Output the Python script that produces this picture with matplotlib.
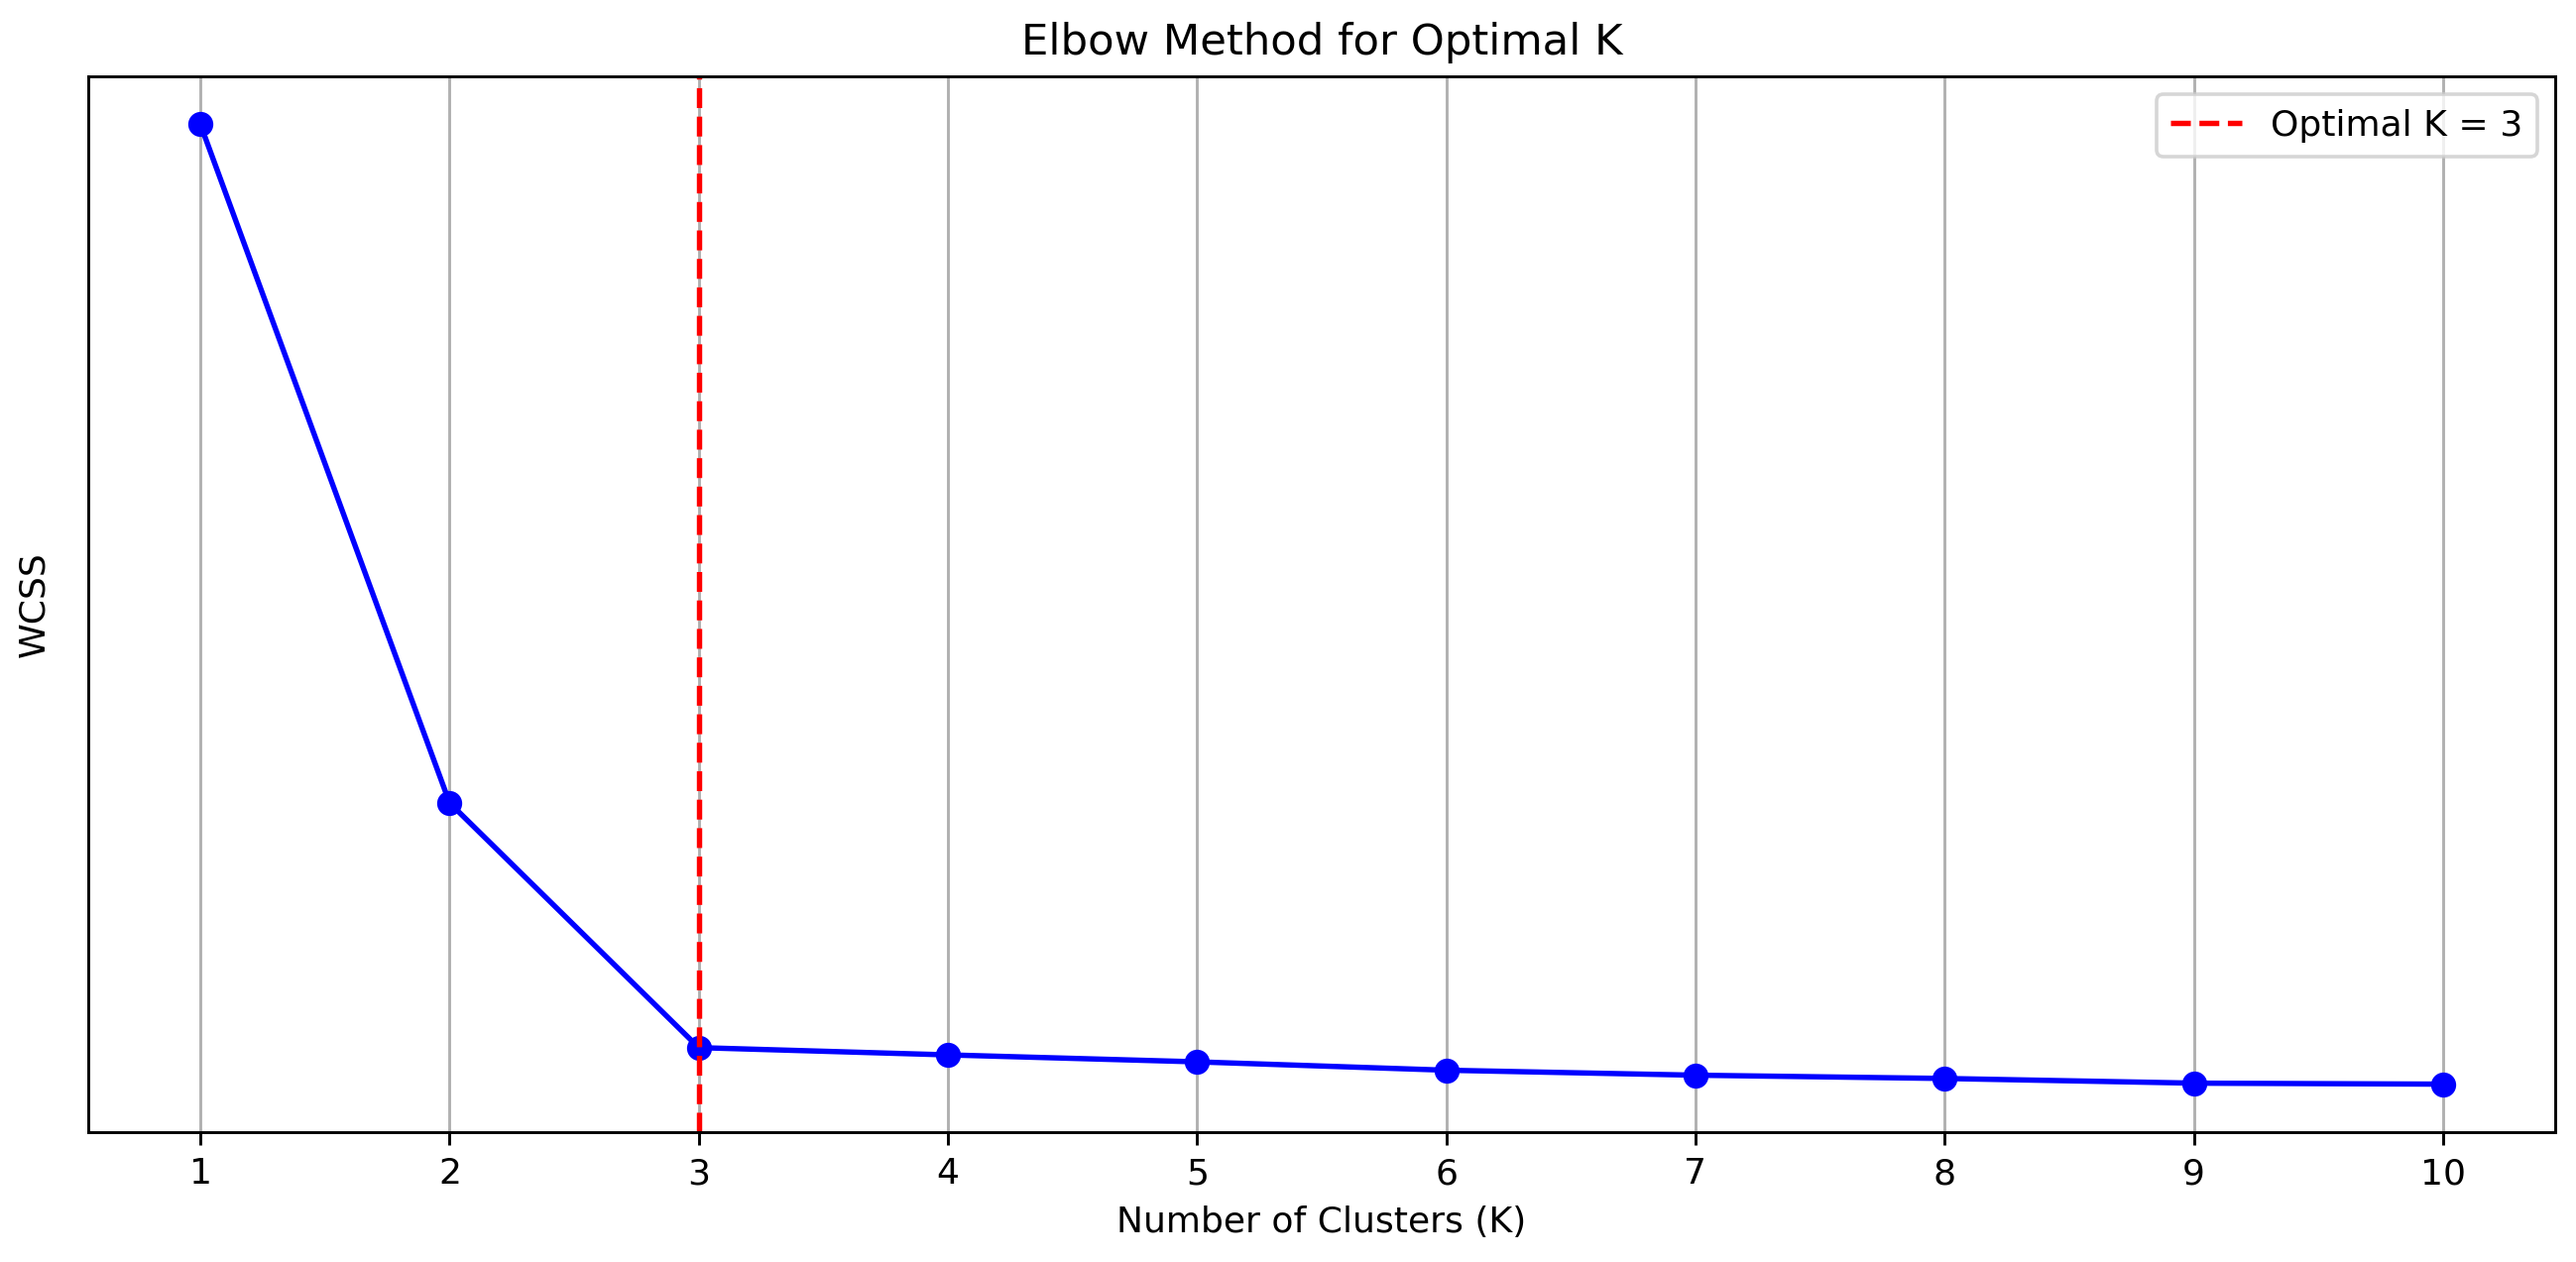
#!/usr/bin/env python3

import matplotlib
matplotlib.use('Agg')
import matplotlib.pyplot as plt

# Data (y axis has no ticks, so units are arbitrary)
k_values = [1, 2, 3, 4, 5, 6, 7, 8, 9, 10]
wcss = [10140, 3320, 860, 787, 717, 633, 583, 550, 503, 493]
optimal_k = 3


def main():

    # Create figure
    fig = plt.figure(figsize=(2598 / 260, 1273 / 260), dpi=260)
    fig.subplots_adjust(left=89 / 2598, right=2577 / 2598,
                        top=1 - 77 / 1273, bottom=1 - 1142 / 1273)

    # Elbow curve
    plt.plot(k_values, wcss, marker='o', color='blue')
    plt.axvline(x=optimal_k, color='red', linestyle='--',
                label='Optimal K = ' + str(optimal_k))

    plt.title('Elbow Method for Optimal K')
    plt.xlabel('Number of Clusters (K)')
    plt.ylabel('WCSS', labelpad=10.5)
    plt.xticks(k_values)
    plt.yticks([])
    plt.grid(True)
    plt.legend()

    plt.savefig('out.png', dpi=260)


if __name__ == "__main__":
    main()
